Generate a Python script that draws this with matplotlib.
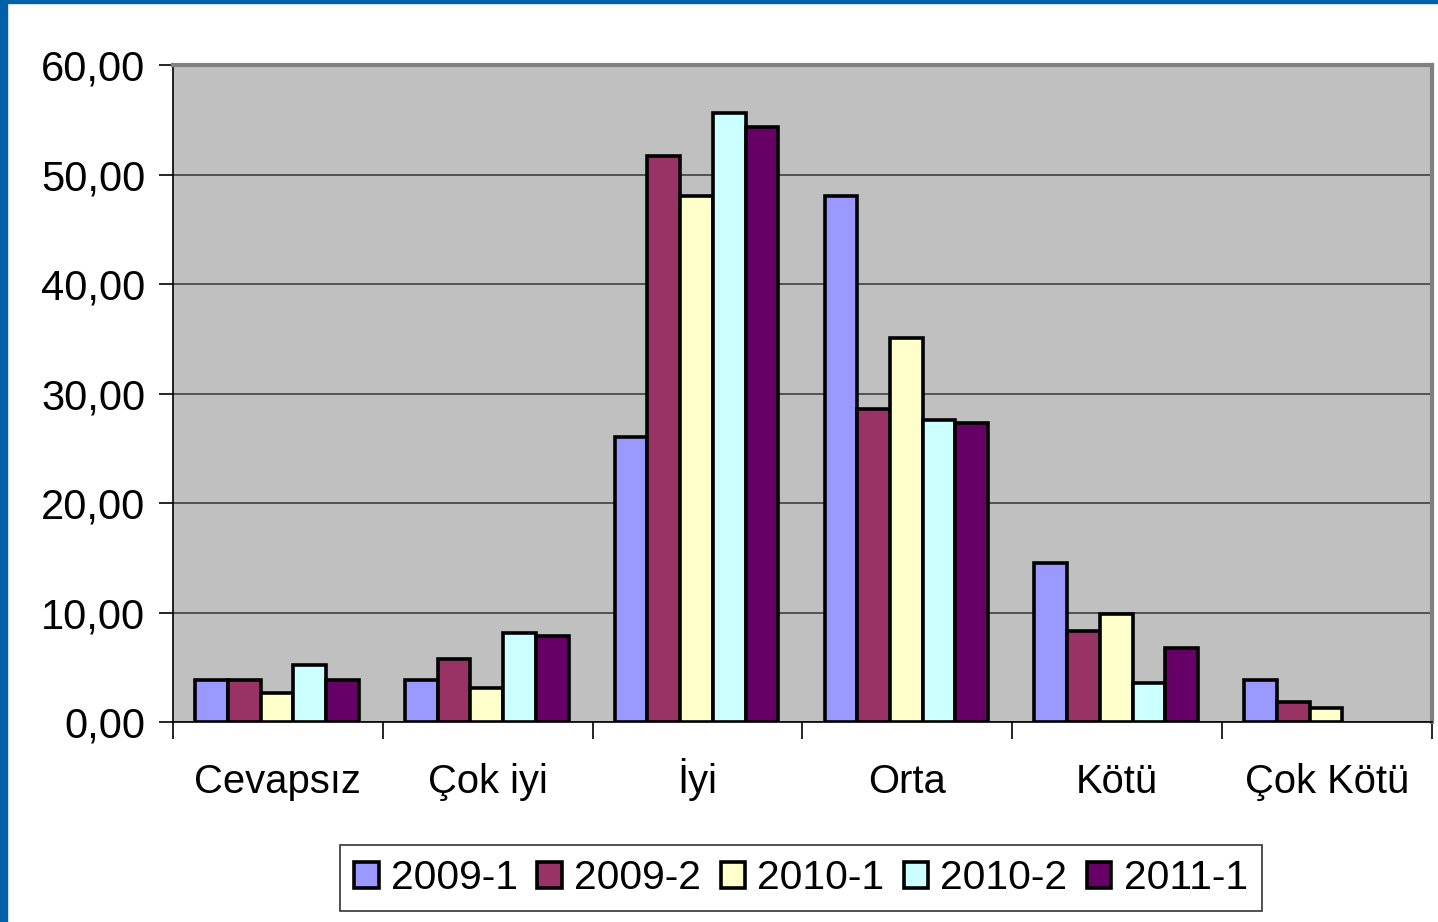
import matplotlib
matplotlib.use("Agg")
import matplotlib.pyplot as plt
import numpy as np
from matplotlib.patches import Rectangle

plt.rcParams['font.family'] = ['Liberation Sans', 'DejaVu Sans']

categories = ["Cevapsız", "Çok iyi", "İyi", "Orta", "Kötü", "Çok Kötü"]
series = ["2009-1", "2009-2", "2010-1", "2010-2", "2011-1"]
v2009_1 = [3.85, 3.85, 26.0, 48.0, 14.5, 3.85]
v2009_2 = [3.85, 5.75, 51.7, 28.6, 8.3, 1.8]
v2010_1 = [2.65, 3.1, 48.0, 35.1, 9.9, 1.3]
v2010_2 = [5.2, 8.1, 55.6, 27.6, 3.6, 0.0]
v2011_1 = [3.85, 7.85, 54.3, 27.3, 6.8, 0.0]
values = [v2009_1, v2009_2, v2010_1, v2010_2, v2011_1]
colors = ["#9999FF", "#993366", "#FFFFCC", "#CCFFFF", "#660066"]
yticks = [0, 10, 20, 30, 40, 50, 60]
ytick_labels = ["0,00", "10,00", "20,00", "30,00", "40,00", "50,00", "60,00"]

W, H = 1438, 922
fig = plt.figure(figsize=(W/100, H/100), dpi=100)
fig.patch.set_facecolor("white")

# blue frame
fig.patches.append(Rectangle((0, 0), 7/W, 1, transform=fig.transFigure, color="#0060A8", zorder=10))
fig.patches.append(Rectangle((0, 1-3/H), 1, 3/H, transform=fig.transFigure, color="#0060A8", zorder=10))

ax = fig.add_axes([173/W, 1-722/H, (1432-173)/W, (722-65)/H])
ax.set_facecolor("#C0C0C0")

n = len(series)
bw = 0.156
x = np.arange(len(categories))
for i, (s, vals, c) in enumerate(zip(series, values, colors)):
    pos = x + (i - (n-1)/2) * bw - 0.005
    v = np.array(vals)
    mask = v > 0
    ax.bar(pos[mask], v[mask], width=bw, color=c, edgecolor="black", linewidth=2.6, label=s, zorder=3)

ax.set_xlim(-0.5, len(categories) - 0.5)
ax.set_ylim(0, 60)
ax.set_yticks(yticks)
ax.set_yticklabels(ytick_labels, fontsize=30)
ax.yaxis.grid(True, color="#404040", linewidth=1.2, zorder=1)
ax.set_axisbelow(True)

ax.set_xticks(np.arange(len(categories) + 1) - 0.5)
ax.set_xticklabels([])
ax.set_xticks(x, minor=True)
ax.set_xticklabels(categories, minor=True, fontsize=28.8)
for lbl in ax.get_xticklabels(minor=True):
    lbl.set_verticalalignment("baseline")
ax.tick_params(axis="x", which="minor", length=0, pad=51)
ax.tick_params(axis="x", which="major", length=12, width=1.2, color="black")
ax.tick_params(axis="y", length=10, width=1.2, pad=10)

for side in ["left", "bottom"]:
    ax.spines[side].set_color("black")
    ax.spines[side].set_linewidth(1.2)
for side in ["top", "right"]:
    ax.spines[side].set_color("#808080")
    ax.spines[side].set_linewidth(3)

leg = fig.legend(loc="center", bbox_to_anchor=(801/W, 1-878/H), ncol=5, fontsize=29.3,
                 frameon=True, fancybox=False, edgecolor="black", handlelength=0.6,
                 handleheight=0.6, handletextpad=0.3, columnspacing=0.48,
                 borderpad=0.35)
leg.get_frame().set_linewidth(1.2)

fig.savefig("out.png", dpi=100)
